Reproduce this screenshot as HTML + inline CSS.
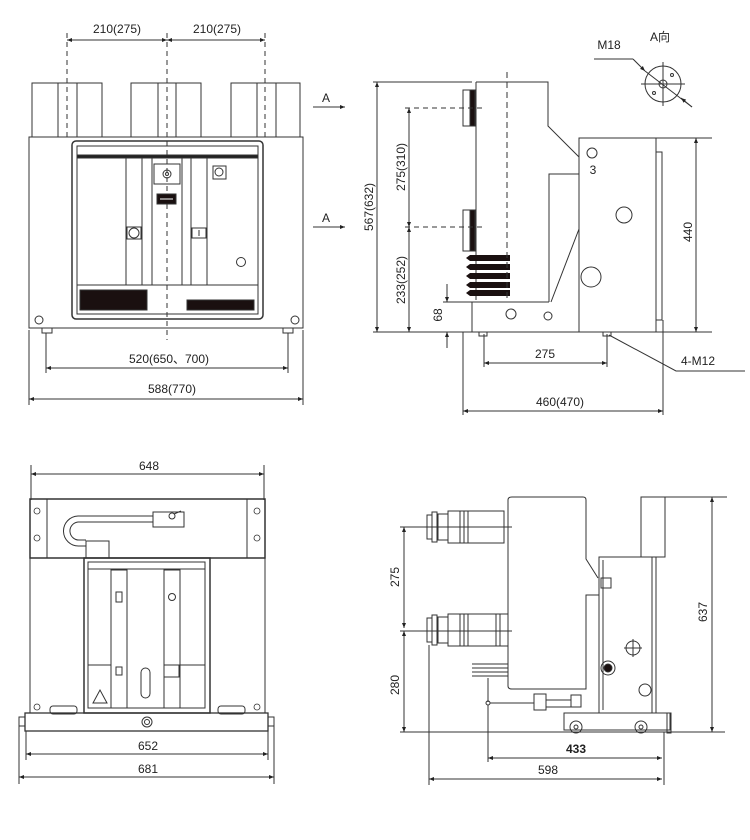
<!DOCTYPE html>
<html><head><meta charset="utf-8"><style>
html,body{margin:0;padding:0;background:#fff}
svg{display:block}
text{font-family:"Liberation Sans","Noto Sans CJK SC",sans-serif;font-size:12px;fill:#222}
</style></head><body>
<svg width="750" height="840" viewBox="0 0 750 840" xmlns="http://www.w3.org/2000/svg">
<defs>
<marker id="a" viewBox="0 0 10 10" refX="10" refY="5" markerWidth="8" markerHeight="5" orient="auto-start-reverse" markerUnits="userSpaceOnUse"><path d="M0,1 L10,5 L0,9z" fill="#222"/></marker>
</defs>
<g fill="none" stroke="#333" stroke-width="1">

<!-- ===== TOP LEFT ===== -->
<g stroke-dasharray="5,4"><line x1="67" y1="33" x2="67" y2="138"/><line x1="167" y1="33" x2="167" y2="340"/><line x1="265" y1="33" x2="265" y2="138"/></g>
<line x1="67" y1="40" x2="167" y2="40" marker-start="url(#a)" marker-end="url(#a)"/>
<line x1="167" y1="40" x2="265" y2="40" marker-start="url(#a)" marker-end="url(#a)"/>
<rect x="32" y="83" width="70" height="54"/><line x1="58" y1="83" x2="58" y2="137"/><line x1="77" y1="83" x2="77" y2="137"/>
<rect x="131" y="83" width="70" height="54"/><line x1="158" y1="83" x2="158" y2="137"/><line x1="176" y1="83" x2="176" y2="137"/>
<rect x="231" y="83" width="69" height="54"/><line x1="257" y1="83" x2="257" y2="137"/><line x1="276" y1="83" x2="276" y2="137"/>
<rect x="29" y="137" width="274" height="191"/>
<rect x="72" y="141" width="191" height="178" rx="4" stroke-width="1.5"/>
<rect x="77" y="146" width="181" height="168"/>
<rect x="77" y="155" width="181" height="3" fill="#222"/>
<line x1="77" y1="285" x2="258" y2="285"/>
<rect x="80" y="290" width="67" height="20" fill="#1a1010"/>
<rect x="187" y="300" width="67" height="10" fill="#1a1010"/>
<line x1="126" y1="158" x2="126" y2="285"/><line x1="142" y1="158" x2="142" y2="285"/>
<line x1="152" y1="158" x2="152" y2="285"/><line x1="182" y1="158" x2="182" y2="285"/>
<line x1="191" y1="158" x2="191" y2="285"/><line x1="207" y1="158" x2="207" y2="285"/>
<rect x="154" y="164" width="26" height="20"/><circle cx="167" cy="174" r="4"/><circle cx="167" cy="174" r="1.5"/>
<rect x="157" y="194" width="19" height="10" fill="#1a1010"/><line x1="160" y1="199" x2="173" y2="199" stroke="#fff"/>
<rect x="127" y="227" width="14" height="12"/><circle cx="134" cy="233" r="5"/>
<rect x="192" y="228" width="14" height="10"/><line x1="199" y1="230" x2="199" y2="236"/>
<circle cx="241" cy="262" r="4.5"/>
<rect x="213" y="166" width="13" height="13"/><circle cx="219" cy="172" r="4"/>
<circle cx="39" cy="320" r="4"/><circle cx="295" cy="320" r="4"/>
<rect x="42" y="328" width="10" height="5"/><rect x="283" y="328" width="10" height="5"/>
<line x1="313" y1="107" x2="345" y2="107" marker-end="url(#a)"/>
<line x1="313" y1="227" x2="345" y2="227" marker-end="url(#a)"/>
<line x1="46" y1="333" x2="46" y2="373"/><line x1="288" y1="333" x2="288" y2="373"/>
<line x1="46" y1="368" x2="288" y2="368" marker-start="url(#a)" marker-end="url(#a)"/>
<line x1="29" y1="330" x2="29" y2="405"/><line x1="303" y1="330" x2="303" y2="405"/>
<line x1="29" y1="399" x2="303" y2="399" marker-start="url(#a)" marker-end="url(#a)"/>

<!-- ===== TOP RIGHT ===== -->
<path d="M476,82 L548,82 L548,126 L579,157"/>
<rect x="579" y="138" width="77" height="194"/>
<rect x="656" y="152" width="6" height="168"/>
<line x1="476" y1="82" x2="476" y2="300"/>
<rect x="463" y="90" width="13" height="36"/><rect x="470" y="90" width="5" height="36" fill="#1a1010"/>
<rect x="463" y="210" width="13" height="41"/><rect x="470" y="210" width="5" height="41" fill="#1a1010"/>
<g fill="#1a1010" stroke="none">
<path d="M470,255 L510,255 L510,261 L470,261 L466,258z"/><path d="M470,264 L510,264 L510,270 L470,270 L466,267z"/>
<path d="M470,273 L510,273 L510,279 L470,279 L466,276z"/><path d="M470,282 L510,282 L510,288 L470,288 L466,285z"/>
<path d="M470,290 L510,290 L510,296 L470,296 L466,293z"/></g>
<path d="M472,302 L472,332 L579,332"/><line x1="472" y1="302" x2="549" y2="302"/>
<path d="M549,302 L549,174 L579,174"/><line x1="551" y1="302" x2="579" y2="229"/>
<circle cx="592" cy="153" r="5"/><circle cx="624" cy="215" r="8"/><circle cx="591" cy="277" r="10"/>
<circle cx="511" cy="314" r="5"/><circle cx="548" cy="316" r="4"/>
<line x1="507" y1="72" x2="507" y2="300" stroke-dasharray="6,4"/>
<rect x="479" y="332" width="8" height="4"/><rect x="603" y="332" width="8" height="4"/>
<line x1="373" y1="82" x2="472" y2="82"/><line x1="373" y1="332" x2="712" y2="332"/>
<line x1="377" y1="82" x2="377" y2="332" marker-start="url(#a)" marker-end="url(#a)"/>
<g stroke-dasharray="5,4"><line x1="405" y1="108" x2="486" y2="108"/><line x1="405" y1="227" x2="486" y2="227"/></g>
<line x1="409" y1="108" x2="409" y2="227" marker-start="url(#a)" marker-end="url(#a)"/>
<line x1="409" y1="227" x2="409" y2="332" marker-start="url(#a)" marker-end="url(#a)"/>
<line x1="443" y1="302" x2="472" y2="302"/>
<line x1="447" y1="284" x2="447" y2="302" marker-end="url(#a)"/>
<line x1="447" y1="348" x2="447" y2="332" marker-end="url(#a)"/>
<line x1="656" y1="138" x2="712" y2="138"/>
<line x1="696" y1="138" x2="696" y2="332" marker-start="url(#a)" marker-end="url(#a)"/>
<line x1="484" y1="334" x2="484" y2="367"/><line x1="607" y1="334" x2="607" y2="367"/>
<line x1="484" y1="363" x2="607" y2="363" marker-start="url(#a)" marker-end="url(#a)"/>
<line x1="463" y1="332" x2="463" y2="415"/><line x1="663" y1="320" x2="663" y2="415"/>
<line x1="463" y1="411" x2="663" y2="411" marker-start="url(#a)" marker-end="url(#a)"/>
<path d="M609,335 L676,371 L745,371"/>
<circle cx="663" cy="84" r="18"/><circle cx="663" cy="84" r="4"/>
<circle cx="672" cy="75" r="1.5"/><circle cx="654" cy="93" r="1.5"/>
<line x1="663" y1="62" x2="663" y2="106"/><line x1="641" y1="84" x2="685" y2="84"/>
<line x1="594" y1="59" x2="633" y2="59"/><line x1="633" y1="59" x2="645" y2="71" marker-end="url(#a)"/>
<line x1="645" y1="71" x2="692" y2="107"/><line x1="692" y1="107" x2="681" y2="98" marker-end="url(#a)"/>

<!-- ===== BOTTOM LEFT ===== -->
<line x1="31" y1="465" x2="31" y2="500"/><line x1="264" y1="465" x2="264" y2="500"/>
<line x1="31" y1="474" x2="264" y2="474" marker-start="url(#a)" marker-end="url(#a)"/>
<rect x="30" y="499" width="235" height="59" stroke-width="1.5"/>
<line x1="47" y1="499" x2="47" y2="558"/><line x1="247" y1="499" x2="247" y2="558"/>
<g stroke-width="0.8"><circle cx="37" cy="511" r="3"/><circle cx="37" cy="538" r="3"/><circle cx="257" cy="511" r="3"/><circle cx="257" cy="538" r="3"/>
<circle cx="37" cy="707" r="3"/><circle cx="257" cy="707" r="3"/></g>
<rect x="153" y="512" width="31" height="15"/><circle cx="172" cy="516" r="3"/><path d="M174,514 L181,511"/>
<path d="M153,516 L78,516 A13,13 0 0 0 79,546 L86,546"/><path d="M153,522 L78,522 A7,7 0 0 0 80,540 L86,540"/>
<rect x="86" y="541" width="23" height="17"/>
<line x1="30" y1="558" x2="30" y2="713"/><line x1="265" y1="558" x2="265" y2="713"/>
<rect x="84" y="558" width="126" height="155" stroke-width="1.5"/>
<rect x="88" y="562" width="117" height="7"/>
<line x1="88" y1="569" x2="88" y2="708"/><line x1="205" y1="569" x2="205" y2="708"/>
<line x1="88" y1="708" x2="205" y2="708"/>
<rect x="111" y="570" width="16" height="138"/><rect x="164" y="570" width="16" height="138"/>
<rect x="116" y="592" width="6" height="10"/><circle cx="172" cy="597" r="3.5"/>
<rect x="88" y="665" width="23" height="43"/><rect x="180" y="665" width="25" height="43"/>
<path d="M93,703 L100,690 L107,703z"/>
<rect x="141" y="668" width="9" height="30" rx="4.5"/>
<rect x="116" y="667" width="6" height="8"/><rect x="164" y="665" width="15" height="12"/>
<rect x="50" y="706" width="27" height="8" rx="3"/><rect x="218" y="706" width="27" height="8" rx="3"/>
<rect x="25" y="713" width="243" height="18" stroke-width="1.3"/>
<rect x="19" y="717" width="6" height="9"/><rect x="268" y="717" width="6" height="9"/>
<circle cx="147" cy="722" r="5"/><circle cx="147" cy="722" r="2.5"/>
<line x1="26" y1="731" x2="26" y2="760"/><line x1="268" y1="731" x2="268" y2="760"/>
<line x1="26" y1="754" x2="268" y2="754" marker-start="url(#a)" marker-end="url(#a)"/>
<line x1="19" y1="726" x2="19" y2="784"/><line x1="274" y1="726" x2="274" y2="784"/>
<line x1="19" y1="777" x2="274" y2="777" marker-start="url(#a)" marker-end="url(#a)"/>

<!-- ===== BOTTOM RIGHT ===== -->
<path d="M508,500 Q508,497 512,497 L583,497 Q586,497 586,500 L586,559 L598,578"/>
<path d="M508,500 L508,686 Q508,689 512,689 L586,689 L586,595 L599,595"/>
<rect x="641" y="497" width="24" height="60"/>
<rect x="599" y="557" width="57" height="156"/><line x1="652" y1="557" x2="652" y2="713"/>
<line x1="603" y1="560" x2="603" y2="710"/><rect x="601" y="578" width="10" height="10"/>
<rect x="564" y="713" width="106" height="17"/><rect x="667" y="713" width="4" height="20"/>
<circle cx="576" cy="727" r="6"/><circle cx="576" cy="727" r="2"/><circle cx="641" cy="727" r="6"/><circle cx="641" cy="727" r="2"/>
<g>
<rect x="432" y="512" width="5" height="30"/><rect x="427" y="515" width="5" height="24"/><rect x="438" y="514" width="10" height="26"/>
<rect x="448" y="511" width="56" height="32"/><line x1="460" y1="511" x2="460" y2="543"/><line x1="464" y1="511" x2="464" y2="543"/><line x1="468" y1="511" x2="468" y2="543"/>
<rect x="432" y="615" width="5" height="30"/><rect x="427" y="618" width="5" height="24"/><rect x="438" y="617" width="10" height="26"/>
<rect x="448" y="614" width="60" height="32"/><line x1="460" y1="614" x2="460" y2="646"/><line x1="464" y1="614" x2="464" y2="646"/><line x1="468" y1="614" x2="468" y2="646"/><line x1="496" y1="614" x2="496" y2="646"/><line x1="500" y1="614" x2="500" y2="646"/>
</g>
<line x1="472" y1="664" x2="508" y2="664"/><line x1="472" y1="668" x2="508" y2="668"/><line x1="472" y1="672" x2="508" y2="672"/><line x1="472" y1="676" x2="508" y2="676"/>
<line x1="488" y1="678" x2="488" y2="702"/><circle cx="488" cy="703" r="2"/>
<line x1="490" y1="703" x2="534" y2="703"/><rect x="534" y="694" width="12" height="16"/><rect x="571" y="695" width="10" height="12"/>
<path d="M546,700 L571,700 M546,707 L571,707"/>
<circle cx="633" cy="648" r="7"/><line x1="624" y1="648" x2="642" y2="648"/><line x1="633" y1="639" x2="633" y2="657"/>
<circle cx="608" cy="668" r="7"/><circle cx="608" cy="668" r="4" fill="#1a1010"/>
<circle cx="645" cy="690" r="6"/>
<line x1="400" y1="527" x2="512" y2="527"/><line x1="400" y1="631" x2="512" y2="631"/><line x1="400" y1="732" x2="725" y2="732"/>
<line x1="404" y1="527" x2="404" y2="628" marker-start="url(#a)" marker-end="url(#a)"/>
<line x1="404" y1="631" x2="404" y2="732" marker-start="url(#a)" marker-end="url(#a)"/>
<line x1="665" y1="497" x2="727" y2="497"/>
<line x1="712" y1="497" x2="712" y2="732" marker-start="url(#a)" marker-end="url(#a)"/>
<line x1="488" y1="705" x2="488" y2="762"/>
<line x1="488" y1="758" x2="662" y2="758" marker-start="url(#a)" marker-end="url(#a)"/>
<line x1="429" y1="645" x2="429" y2="785"/><line x1="664" y1="732" x2="664" y2="785"/>
<line x1="429" y1="779" x2="662" y2="779" marker-start="url(#a)" marker-end="url(#a)"/>
</g>

<g>
<text x="117" y="33" text-anchor="middle">210(275)</text>
<text x="217" y="33" text-anchor="middle">210(275)</text>
<text x="326" y="102" text-anchor="middle" font-size="11">A</text>
<text x="326" y="222" text-anchor="middle" font-size="11">A</text>
<text x="169" y="363" text-anchor="middle">520(650、700)</text>
<text x="172" y="393" text-anchor="middle">588(770)</text>
<text transform="translate(373,207) rotate(-90)" text-anchor="middle">567(632)</text>
<text transform="translate(405,167) rotate(-90)" text-anchor="middle">275(310)</text>
<text transform="translate(405,280) rotate(-90)" text-anchor="middle">233(252)</text>
<text transform="translate(442,315) rotate(-90)" text-anchor="middle">68</text>
<text transform="translate(692,232) rotate(-90)" text-anchor="middle">440</text>
<text x="593" y="174" text-anchor="middle" font-size="11">3</text>
<text x="545" y="358" text-anchor="middle">275</text>
<text x="560" y="406" text-anchor="middle">460(470)</text>
<text x="698" y="365" text-anchor="middle">4-M12</text>
<text x="609" y="49" text-anchor="middle" font-size="11">M18</text>
<text x="660" y="41" text-anchor="middle" font-size="11">A向</text>
<text x="149" y="470" text-anchor="middle">648</text>
<text x="148" y="750" text-anchor="middle">652</text>
<text x="148" y="773" text-anchor="middle">681</text>
<text transform="translate(399,577) rotate(-90)" text-anchor="middle">275</text>
<text transform="translate(399,685) rotate(-90)" text-anchor="middle">280</text>
<text transform="translate(707,612) rotate(-90)" text-anchor="middle">637</text>
<text x="576" y="753" text-anchor="middle" font-weight="bold">433</text>
<text x="548" y="774" text-anchor="middle">598</text>
</g>
</svg>
</body></html>
